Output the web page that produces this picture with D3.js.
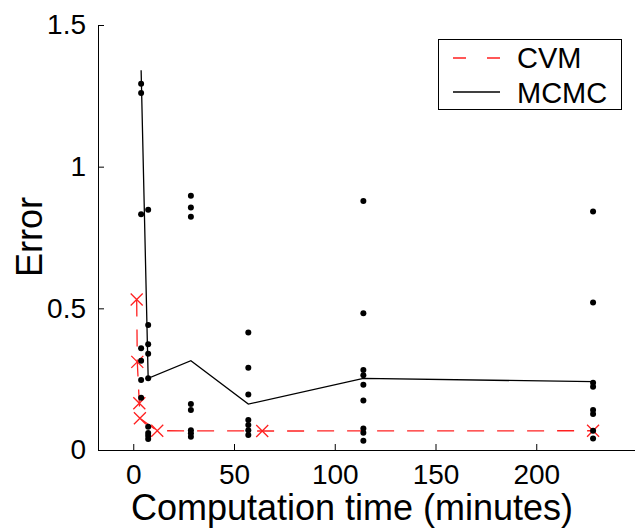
<!DOCTYPE html>
<html>
<head>
<meta charset="utf-8">
<script src="https://cdn.jsdelivr.net/npm/d3@7"></script>
<style>
  body { margin: 0; background: white; }
  text { font-family: 'Liberation Sans', Arial, Helvetica, sans-serif; }
</style>
</head>
<body>
<div id="chart"></div>
<script>
// CVM runs (time in minutes, error)
var cvmTime = [1.7, 2.0, 3.0, 3.3, 11.9, 64, 228.2];
var cvmErr = [0.531, 0.311, 0.165, 0.112, 0.068, 0.067, 0.068];

// MCMC: mean line + individual runs at each time
var mcmcTime = [3.9, 7.4, 28.6, 57.1, 114.2, 228.2];
var mcmcMean = [1.34, 0.253, 0.315, 0.162, 0.253, 0.241];
var mcmcRuns = [
  [1.293, 1.260, 0.832, 0.359, 0.315, 0.247, 0.184],
  [0.848, 0.441, 0.373, 0.34, 0.253, 0.082, 0.06, 0.05, 0.039],
  [0.897, 0.856, 0.823, 0.162, 0.141, 0.07, 0.059, 0.047],
  [0.415, 0.29, 0.196, 0.106, 0.088, 0.07, 0.053],
  [0.879, 0.483, 0.282, 0.264, 0.23, 0.175, 0.076, 0.061, 0.033],
  [0.842, 0.521, 0.237, 0.223, 0.141, 0.127, 0.068, 0.041]
];

var xTicks = [0, 50, 100, 150, 200];
var yTicks = [0, 0.5, 1, 1.5];
var legendNames = ['CVM', 'MCMC'];

var W = 635, H = 529;
var svg = d3.select('#chart').append('svg')
  .attr('width', W).attr('height', H);

var x = d3.scaleLinear().domain([-17.5, 250]).range([98, 637]);
var y = d3.scaleLinear().domain([0, 1.5]).range([450, 25]);

// axes (ticks point inward)
svg.append('g')
  .attr('transform', 'translate(0,450)')
  .call(d3.axisBottom(x).tickValues(xTicks).tickSizeInner(-6).tickSizeOuter(0).tickPadding(14))
  .call(function(g) {
    g.select('.domain').attr('stroke', '#000');
    g.selectAll('text').attr('font-size', 28).attr('fill', '#000').attr('font-family', 'Liberation Sans, Arial, sans-serif');
  });
svg.append('g')
  .attr('transform', 'translate(98,0)')
  .call(d3.axisLeft(y).tickValues(yTicks).tickFormat(d3.format('')).tickSizeInner(-6).tickSizeOuter(0).tickPadding(12))
  .call(function(g) {
    g.select('.domain').attr('stroke', '#000');
    g.selectAll('text').attr('font-size', 28).attr('fill', '#000').attr('font-family', 'Liberation Sans, Arial, sans-serif');
  });

// axis titles
svg.append('text')
  .attr('x', 352).attr('y', 520)
  .attr('text-anchor', 'middle')
  .attr('font-size', 36)
  .text('Computation time (minutes)');
svg.append('text')
  .attr('transform', 'translate(42,237) rotate(-90)')
  .attr('text-anchor', 'middle')
  .attr('font-size', 36)
  .text('Error');

// CVM dashed line + x markers
var cvm = cvmTime.map(function(t, i) { return [t, cvmErr[i]]; });
svg.append('path')
  .datum(cvm)
  .attr('fill', 'none')
  .attr('stroke', '#ff2020')
  .attr('stroke-width', 1.3)
  .attr('stroke-dasharray', '17,13')
  .attr('d', d3.line().x(function(d) { return x(d[0]); }).y(function(d) { return y(d[1]); }));
svg.selectAll('.cross')
  .data(cvm)
  .enter().append('path')
  .attr('class', 'cross')
  .attr('transform', function(d) { return 'translate(' + x(d[0]) + ',' + y(d[1]) + ')'; })
  .attr('d', 'M-6,-6L6,6M-6,6L6,-6')
  .attr('stroke', '#ff2020')
  .attr('stroke-width', 1.3)
  .attr('fill', 'none');

// MCMC mean line
var mcmc = mcmcTime.map(function(t, i) { return [t, mcmcMean[i]]; });
svg.append('path')
  .datum(mcmc)
  .attr('fill', 'none')
  .attr('stroke', '#000')
  .attr('stroke-width', 1.3)
  .attr('d', d3.line().x(function(d) { return x(d[0]); }).y(function(d) { return y(d[1]); }));

// MCMC individual runs
var dots = [];
mcmcRuns.forEach(function(col, i) {
  col.forEach(function(e) { dots.push([mcmcTime[i], e]); });
});
svg.selectAll('.dot')
  .data(dots)
  .enter().append('circle')
  .attr('class', 'dot')
  .attr('cx', function(d) { return x(d[0]); })
  .attr('cy', function(d) { return y(d[1]); })
  .attr('r', 3)
  .attr('fill', '#000');

// legend
var lg = svg.append('g');
lg.append('rect')
  .attr('x', 438.5).attr('y', 39.5)
  .attr('width', 183).attr('height', 70)
  .attr('fill', 'white').attr('stroke', '#000');
lg.append('line')
  .attr('x1', 453).attr('x2', 500).attr('y1', 58).attr('y2', 58)
  .attr('stroke', '#ff2020').attr('stroke-width', 1.3)
  .attr('stroke-dasharray', '13,21');
lg.append('line')
  .attr('x1', 453).attr('x2', 500).attr('y1', 92).attr('y2', 92)
  .attr('stroke', '#000').attr('stroke-width', 1.3);
lg.selectAll('.lt')
  .data(legendNames)
  .enter().append('text')
  .attr('class', 'lt')
  .attr('x', 517)
  .attr('y', function(d, i) { return 68 + i * 35; })
  .attr('font-size', 29)
  .text(function(d) { return d; });
</script>
</body>
</html>
